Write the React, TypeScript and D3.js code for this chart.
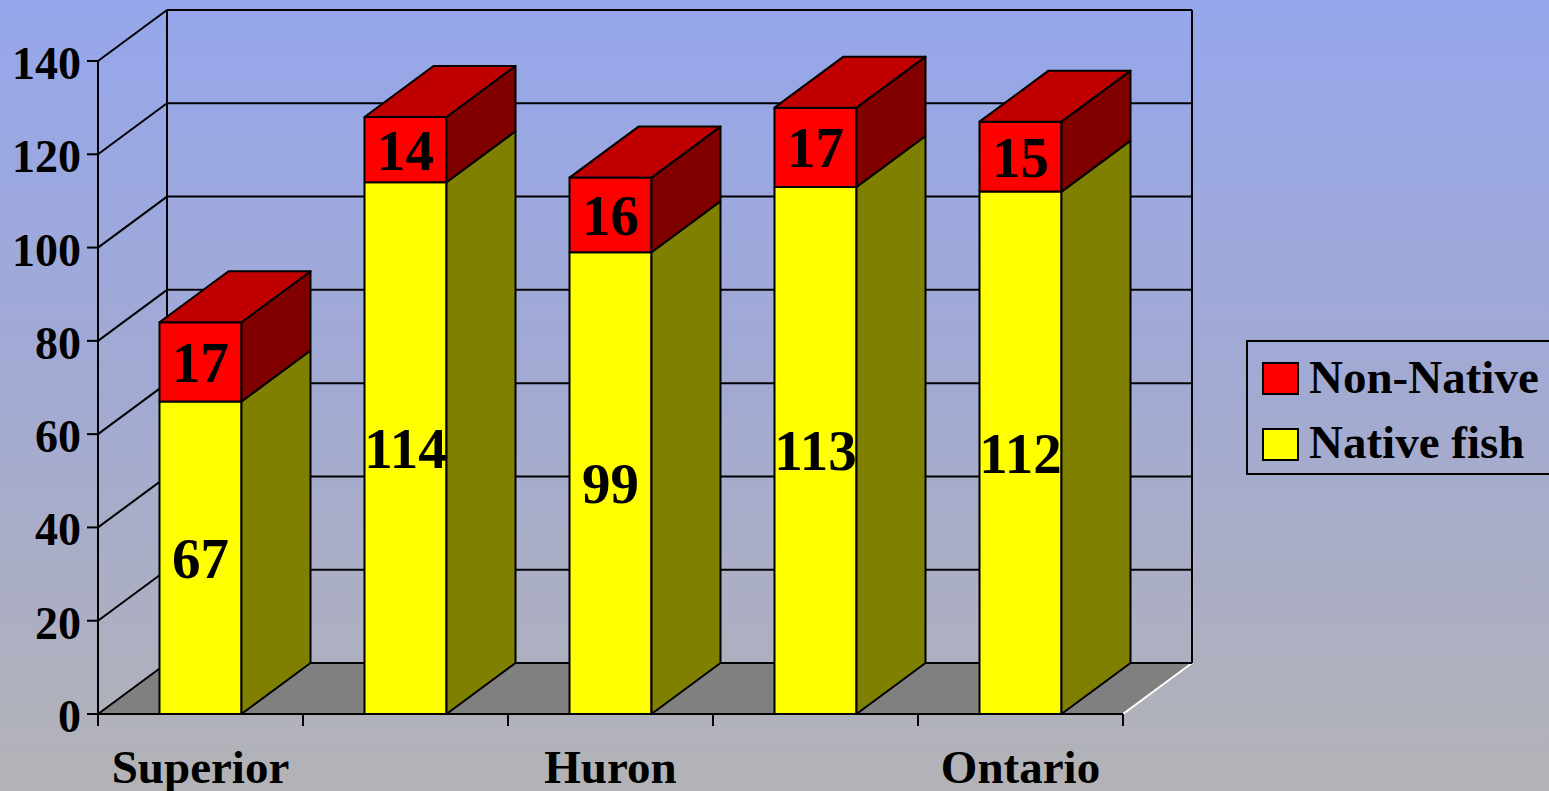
import React from "react";
import * as d3 from "d3";

// Fish species counts per lake
const categories = ["Superior", "Michigan", "Huron", "Erie", "Ontario"];
const shownLabels = ["Superior", "Huron", "Ontario"];
const nativeFish = [67, 114, 99, 113, 112];
const nonNative = [17, 14, 16, 17, 15];
const yTicks = [0, 20, 40, 60, 80, 100, 120, 140];
const seriesNames = ["Non-Native", "Native fish"];

const W = 1549;
const H = 791;
const FONT = "'Liberation Serif', 'Times New Roman', serif";

// 3D depth offset of the back wall
const DX = 69;
const DY = -51;

const COLORS = {
  nativeFront: "#FFFF00",
  nativeSide: "#808000",
  nonFront: "#FF0000",
  nonSide: "#800000",
  nonTop: "#C00000",
  floor: "#808080",
};

export default function App() {
  const x = d3
    .scaleBand<string>()
    .domain(categories)
    .range([98, 1123])
    .paddingInner(0.6)
    .paddingOuter(0.3);
  const y = d3.scaleLinear().domain([0, 140]).range([714, 61]);

  const x0 = 98;
  const x1 = 1123;
  const step = x.step();
  const bw = x.bandwidth();
  const y0 = y(0);

  const pts = (arr: [number, number][]) => arr.map((p) => p.join(",")).join(" ");

  const segs = categories.map((c, i) => {
    const stack = [
      { lo: 0, hi: nativeFish[i], front: COLORS.nativeFront, side: COLORS.nativeSide, value: nativeFish[i] },
      {
        lo: nativeFish[i],
        hi: nativeFish[i] + nonNative[i],
        front: COLORS.nonFront,
        side: COLORS.nonSide,
        value: nonNative[i],
      },
    ];
    return { c, stack, bx: x(c) as number };
  });

  const boundaries = d3.range(categories.length + 1).map((i) => x0 + i * step);

  return (
    <div style={{ position: "fixed", left: 0, top: 0, width: W, height: H, overflow: "hidden" }}>
      <svg width={W} height={H} style={{ display: "block" }} fontFamily={FONT} fontWeight="bold">
        <defs>
          <linearGradient id="bg" x1="0" y1="0" x2="0" y2="1">
            <stop offset="0" stopColor="#95A6EB" />
            <stop offset="0.5" stopColor="#A3AAD2" />
            <stop offset="1" stopColor="#B3B3B6" />
          </linearGradient>
        </defs>
        <rect x={0} y={0} width={W} height={H} fill="url(#bg)" />

        {/* floor */}
        <polygon
          points={pts([
            [x0, y0],
            [x1, y0],
            [x1 + DX, y0 + DY],
            [x0 + DX, y0 + DY],
          ])}
          fill={COLORS.floor}
        />
        <line x1={x1} y1={y0} x2={x1 + DX} y2={y0 + DY} stroke="#fff" strokeWidth={2} />

        {/* walls and gridlines */}
        {yTicks.map((v) => (
          <g key={v} stroke="#000" strokeWidth={2}>
            <line x1={x0} y1={y(v)} x2={x0 + DX} y2={y(v) + DY} />
            <line x1={x0 + DX} y1={y(v) + DY} x2={x1 + DX} y2={y(v) + DY} />
            <line x1={x0 - 11} y1={y(v)} x2={x0} y2={y(v)} />
          </g>
        ))}
        <line x1={x0 + DX} y1={y(140) + DY} x2={x0 + DX} y2={y0 + DY} stroke="#000" strokeWidth={2} />
        <line x1={x1 + DX} y1={y(140) + DY} x2={x1 + DX} y2={y0 + DY} stroke="#000" strokeWidth={2} />
        <line x1={x0} y1={y(140)} x2={x0} y2={y0} stroke="#000" strokeWidth={2} />
        <line x1={x0} y1={y0} x2={x1} y2={y0} stroke="#000" strokeWidth={2} />
        {boundaries.map((bx, i) => (
          <line key={i} x1={bx} y1={y0} x2={bx} y2={y0 + 12} stroke="#000" strokeWidth={2} />
        ))}

        {/* bars */}
        {segs.map(({ c, stack, bx }) => (
          <g key={c} stroke="#000" strokeWidth={2} strokeLinejoin="round">
            {stack.map((s, k) => (
              <g key={k}>
                <rect x={bx} y={y(s.hi)} width={bw} height={y(s.lo) - y(s.hi)} fill={s.front} />
                <polygon
                  points={pts([
                    [bx + bw, y(s.hi)],
                    [bx + bw + DX, y(s.hi) + DY],
                    [bx + bw + DX, y(s.lo) + DY],
                    [bx + bw, y(s.lo)],
                  ])}
                  fill={s.side}
                />
              </g>
            ))}
            <polygon
              points={pts([
                [bx, y(stack[1].hi)],
                [bx + DX, y(stack[1].hi) + DY],
                [bx + bw + DX, y(stack[1].hi) + DY],
                [bx + bw, y(stack[1].hi)],
              ])}
              fill={COLORS.nonTop}
            />
          </g>
        ))}

        {/* value labels */}
        {segs.map(({ c, stack, bx }) =>
          stack.map((s, k) => (
            <text
              key={c + k}
              x={bx + bw / 2}
              y={(y(s.lo) + y(s.hi)) / 2 + 20}
              textAnchor="middle"
              fontSize={57}
              fill="#000"
            >
              {s.value}
            </text>
          ))
        )}

        {/* y-axis labels */}
        {yTicks.map((v) => (
          <text key={v} x={81} y={y(v) + 18} textAnchor="end" fontSize={46} fill="#000">
            {v}
          </text>
        ))}

        {/* category labels */}
        {categories.map((c) =>
          shownLabels.includes(c) ? (
            <text key={c} x={(x(c) as number) + bw / 2} y={783} textAnchor="middle" fontSize={47} fill="#000">
              {c}
            </text>
          ) : null
        )}

        {/* legend */}
        <rect x={1247} y={341} width={330} height={133} fill="none" stroke="#000" strokeWidth={2} />
        {seriesNames.map((n, i) => (
          <g key={n}>
            <rect
              x={1263}
              y={363 + i * 66}
              width={35}
              height={31}
              fill={i === 0 ? COLORS.nonFront : COLORS.nativeFront}
              stroke="#000"
              strokeWidth={2}
            />
            <text x={1309} y={393 + i * 65} fontSize={47} fill="#000">
              {n}
            </text>
          </g>
        ))}
      </svg>
    </div>
  );
}
